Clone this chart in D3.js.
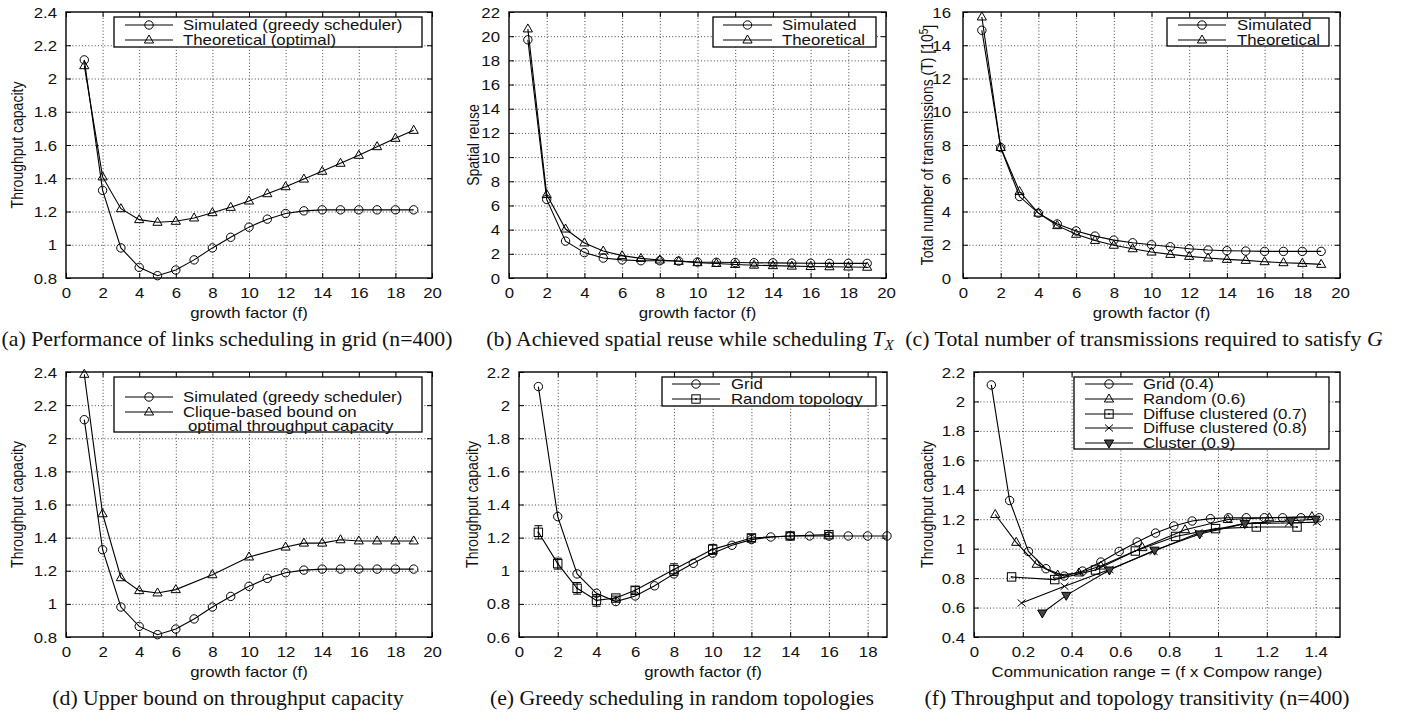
<!DOCTYPE html>
<html><head><meta charset="utf-8">
<script src="https://cdn.jsdelivr.net/npm/d3@7"></script>
<style>
body{margin:0;background:#fff}
svg{display:block}
text{fill:#111}
</style></head><body>
<svg id="c" width="1401" height="715"></svg>
<script>
// ---------------- data ----------------
const growthF = [1,2,3,4,5,6,7,8,9,10,11,12,13,14,15,16,17,18,19];
const simThroughput = [2.112,1.327,0.981,0.864,0.814,0.848,0.909,0.981,1.045,1.106,1.154,1.188,1.204,1.21,1.21,1.21,1.21,1.21,1.21];
const theoThroughput = [2.077,1.408,1.217,1.151,1.135,1.141,1.161,1.193,1.225,1.263,1.307,1.349,1.395,1.442,1.49,1.538,1.59,1.64,1.688];
const simReuse = [19.7,6.5,3.05,2.1,1.65,1.5,1.43,1.43,1.4,1.32,1.3,1.28,1.26,1.25,1.23,1.22,1.21,1.21,1.21];
const theoReuse = [20.6,6.9,4.05,2.9,2.23,1.85,1.62,1.49,1.38,1.27,1.2,1.12,1.06,1.02,0.98,0.95,0.93,0.91,0.89];
const simTx = [14.9,7.85,4.9,3.9,3.25,2.83,2.52,2.28,2.12,2.0,1.88,1.76,1.68,1.64,1.62,1.6,1.6,1.6,1.6];
const theoTx = [15.7,7.85,5.2,3.9,3.15,2.63,2.26,1.97,1.76,1.56,1.42,1.3,1.2,1.12,1.06,0.98,0.92,0.88,0.82];
const cliqueF = [1,2,3,4,5,6,8,10,12,13,14,15,16,17,18,19];
const cliqueBound = [2.386,1.544,1.158,1.08,1.066,1.086,1.176,1.283,1.343,1.367,1.367,1.387,1.38,1.38,1.38,1.38];
const randomF = [1,2,3,4,5,6,8,10,12,14,16];
const randomThroughput = [1.232,1.043,0.894,0.821,0.835,0.882,1.007,1.129,1.198,1.21,1.218];
const randomErr = [0.04,0.033,0.035,0.035,0.012,0.022,0.035,0.03,0.022,0.02,0.012];
// panel (f): communication range = f x Compow range
const gridRange = [0.071,0.146,0.223,0.295,0.37,0.445,0.52,0.595,0.669,0.744,0.819,0.894,0.969,1.043,1.116,1.19,1.265,1.34,1.415];
const randomRange = [0.087,0.173,0.257,0.343,0.43,0.52,0.69,0.865,1.04,1.21,1.385];
const diffuse7Range = [0.154,0.331,0.498,0.661,0.826,0.99,1.157,1.324];
const diffuse7Tput = [0.808,0.79,0.855,0.984,1.083,1.136,1.147,1.147];
const diffuse8Range = [0.195,0.371,0.555,0.736,0.92,1.106,1.29,1.405];
const diffuse8Tput = [0.631,0.744,0.858,0.982,1.107,1.17,1.174,1.18];
const clusterRange = [0.28,0.378,0.555,0.74,0.925,1.11,1.3,1.4];
const clusterTput = [0.563,0.683,0.855,0.99,1.1,1.17,1.19,1.2];
// ticks
const growthTicks20 = [0,2,4,6,8,10,12,14,16,18,20];
const growthTicks18 = [0,2,4,6,8,10,12,14,16,18];
const tputTicks08 = [0.8,1,1.2,1.4,1.6,1.8,2,2.2,2.4];
const tputTicks06 = [0.6,0.8,1,1.2,1.4,1.6,1.8,2,2.2];
const tputTicks04 = [0.4,0.6,0.8,1,1.2,1.4,1.6,1.8,2,2.2];
const reuseTicks = [0,2,4,6,8,10,12,14,16,18,20,22];
const txTicks = [0,2,4,6,8,10,12,14,16];
const rangeTicks = [0,0.2,0.4,0.6,0.8,1,1.2,1.4];
// ---------------- drawing ----------------
const svg = d3.select('#c');
const SANS = '"Liberation Sans", Arial, Helvetica, sans-serif';
const SERIF = '"Liberation Serif", "Times New Roman", serif';
const SX = 1.2;  // horizontal stretch of the plot text
const fmt = d => String(+d.toFixed(2));

function htext(g, x, y, s, anchor, size, sx, family){
  return g.append('text')
    .attr('transform', `translate(${x},${y}) scale(${sx||SX},1)`)
    .attr('text-anchor', anchor||'start')
    .style('font-family', family||SANS)
    .style('font-size', (size||14)+'px')
    .text(s);
}

function marker(g, type, cx, cy){
  const st = '#000';
  if(type==='circle') g.append('circle').attr('cx',cx).attr('cy',cy).attr('r',4.2).attr('fill','none').attr('stroke',st).attr('stroke-width',1);
  else if(type==='tri') g.append('path').attr('d',`M${cx},${cy-5}L${cx+4.6},${cy+3}L${cx-4.6},${cy+3}Z`).attr('fill','none').attr('stroke',st).attr('stroke-width',1);
  else if(type==='square'){
    g.append('rect').attr('x',cx-4.2).attr('y',cy-4.2).attr('width',8.4).attr('height',8.4).attr('fill','none').attr('stroke',st).attr('stroke-width',1);
    g.append('rect').attr('x',cx-0.8).attr('y',cy-0.8).attr('width',1.6).attr('height',1.6).attr('fill',st);
  }
  else if(type==='cross'){
    g.append('path').attr('d',`M${cx-4},${cy-3.5}L${cx+4},${cy+3.5}M${cx-4},${cy+3.5}L${cx+4},${cy-3.5}`).attr('stroke',st).attr('stroke-width',1);
  }
  else if(type==='tridown') g.append('path').attr('d',`M${cx},${cy+5}L${cx+4.6},${cy-3}L${cx-4.6},${cy-3}Z`).attr('fill','#444').attr('stroke',st).attr('stroke-width',1);
}

function panel(p){
  const g = svg.append('g');
  const x = d3.scaleLinear().domain(p.xDomain).range([p.L,p.R]);
  const y = d3.scaleLinear().domain(p.yDomain).range([p.B,p.T]);
  const H = p.B - p.T, W = p.R - p.L;
  // grid
  const inner = (arr, sc, lo, hi) => arr.filter(t => sc(t) > lo+1 && sc(t) < hi-1);
  const gx = g.append('g').attr('transform',`translate(0,${p.B})`)
    .call(d3.axisBottom(x).tickValues(inner(p.xTicks,x,p.L,p.R)).tickSize(-H).tickFormat(''));
  const gy = g.append('g').attr('transform',`translate(${p.L},0)`)
    .call(d3.axisLeft(y).tickValues(inner(p.yTicks,y,p.T,p.B)).tickSize(-W).tickFormat(''));
  [gx,gy].forEach(a=>{ a.select('.domain').remove();
    a.selectAll('line').attr('stroke','#333').attr('stroke-width',0.9).attr('stroke-dasharray','1,2.2'); });
  // inward ticks on all sides
  const tk = [
    [d3.axisBottom(x).tickValues(p.xTicks), `translate(0,${p.B})`],
    [d3.axisTop(x).tickValues(p.xTicks), `translate(0,${p.T})`],
    [d3.axisLeft(y).tickValues(p.yTicks), `translate(${p.L},0)`],
    [d3.axisRight(y).tickValues(p.yTicks), `translate(${p.R},0)`]];
  tk.forEach(([ax,tr])=>{
    const a = g.append('g').attr('transform',tr).call(ax.tickSize(-5).tickFormat(''));
    a.select('.domain').remove(); a.selectAll('line').attr('stroke','#000').attr('stroke-width',1);
  });
  // tick labels
  const lx = g.append('g').attr('transform',`translate(0,${p.B})`)
    .call(d3.axisBottom(x).tickValues(p.xTicks).tickSize(0).tickFormat(fmt));
  lx.select('.domain').remove();
  lx.selectAll('text').attr('y',20).attr('dy',null).attr('transform',`scale(${SX},1)`)
    .style('font-family',SANS).style('font-size','14px').attr('fill','#111');
  const ly = g.append('g').attr('transform',`translate(${p.L},0)`)
    .call(d3.axisLeft(y).tickValues(p.yTicks).tickSize(0).tickFormat(fmt));
  ly.select('.domain').remove();
  ly.selectAll('text').attr('x',-(p.yPad||9)/SX).attr('dy','0.36em').attr('transform',`scale(${SX},1)`)
    .style('font-family',SANS).style('font-size','14px').attr('fill','#111');
  // frame
  g.append('rect').attr('x',p.L).attr('y',p.T).attr('width',W).attr('height',H)
    .attr('fill','none').attr('stroke','#000').attr('stroke-width',1.4);
  // axis titles
  htext(g, (p.L+p.R)/2, p.B+40, p.xLabel, 'middle');
  const yl = g.append('text')
    .attr('transform',`translate(${p.yLabelX},${(p.T+p.B)/2}) rotate(-90) scale(1,${SX})`)
    .attr('text-anchor','middle').attr('dy','0.36em')
    .style('font-family',SANS).style('font-size','14px');
  if(typeof p.yLabel === 'string') yl.text(p.yLabel); else p.yLabel(yl);
  // series
  const line = d3.line().x(d=>x(d[0])).y(d=>y(d[1]));
  p.series.forEach(s=>{
    const pts = s.x.map((v,i)=>[v,s.y[i]]);
    g.append('path').datum(pts).attr('d',line).attr('fill','none').attr('stroke','#000').attr('stroke-width',1.1);
    if(s.err){
      pts.forEach((d,i)=>{
        const cx=x(d[0]), y0=y(d[1]-s.err[i]), y1=y(d[1]+s.err[i]);
        g.append('path').attr('d',`M${cx},${y0}L${cx},${y1}M${cx-4},${y0}L${cx+4},${y0}M${cx-4},${y1}L${cx+4},${y1}`)
          .attr('stroke','#000').attr('stroke-width',1).attr('fill','none');
      });
    }
    pts.forEach(d=>marker(g, s.marker, x(d[0]), y(d[1])));
  });
  // legend
  const lg = p.legend;
  g.append('rect').attr('x',lg.x0).attr('y',lg.y0).attr('width',lg.x1-lg.x0).attr('height',lg.y1-lg.y0)
    .attr('fill','#fff').attr('stroke','#000').attr('stroke-width',1.3);
  lg.rows.forEach((r,i)=>{
    const ry = lg.rowY[i];
    if(r.marker){
      g.append('line').attr('x1',lg.lx0).attr('x2',lg.lx1).attr('y1',ry).attr('y2',ry).attr('stroke','#000').attr('stroke-width',1.1);
      marker(g, r.marker, (lg.lx0+lg.lx1)/2, ry);
    }
    htext(g, lg.tx + (r.indent||0), ry+5, r.text, 'start');
  });
}

panel({L:66,R:432,T:12,B:278, xDomain:[0,20], yDomain:[0.8,2.4], xTicks:growthTicks20, yTicks:tputTicks08,
  xLabel:'growth factor (f)', yLabel:'Throughput capacity', yLabelX:17,
  series:[{x:growthF,y:simThroughput,marker:'circle'},{x:growthF,y:theoThroughput,marker:'tri'}],
  legend:{x0:114,y0:17,x1:422,y1:47,lx0:125,lx1:173,tx:183,rowY:[25,40],
    rows:[{text:'Simulated (greedy scheduler)',marker:'circle'},{text:'Theoretical (optimal)',marker:'tri'}]}});

panel({L:509,R:886,T:12,B:278, xDomain:[0,20], yDomain:[0,22], xTicks:growthTicks20, yTicks:reuseTicks,
  xLabel:'growth factor (f)', yLabel:'Spatial reuse', yLabelX:473,
  series:[{x:growthF,y:simReuse,marker:'circle'},{x:growthF,y:theoReuse,marker:'tri'}],
  legend:{x0:713,y0:17,x1:876,y1:47,lx0:723,lx1:772,tx:782,rowY:[25,40],
    rows:[{text:'Simulated',marker:'circle'},{text:'Theoretical',marker:'tri'}]}});

panel({L:963,R:1340,T:12,B:278, xDomain:[0,20], yDomain:[0,16], xTicks:growthTicks20, yTicks:txTicks, yPad:12,
  xLabel:'growth factor (f)', yLabelX:927,
  yLabel: t => { t.append('tspan').text('Total number of transmissions (T) [10');
    t.append('tspan').attr('dy','-0.45em').style('font-size','10px').text('5');
    t.append('tspan').attr('dy','0.45em').text(']'); },
  series:[{x:growthF,y:simTx,marker:'circle'},{x:growthF,y:theoTx,marker:'tri'}],
  legend:{x0:1167,y0:18,x1:1329,y1:46,lx0:1178,lx1:1226,tx:1237,rowY:[25,40],
    rows:[{text:'Simulated',marker:'circle'},{text:'Theoretical',marker:'tri'}]}});

panel({L:66,R:432,T:372,B:637, xDomain:[0,20], yDomain:[0.8,2.4], xTicks:growthTicks20, yTicks:tputTicks08,
  xLabel:'growth factor (f)', yLabel:'Throughput capacity', yLabelX:17,
  series:[{x:growthF,y:simThroughput,marker:'circle'},{x:cliqueF,y:cliqueBound,marker:'tri'}],
  legend:{x0:114,y0:377,x1:422,y1:432,lx0:125,lx1:173,tx:183,rowY:[397,412,426],
    rows:[{text:'Simulated (greedy scheduler)',marker:'circle'},{text:'Clique-based bound on',marker:'tri'},{text:'optimal throughput capacity',indent:5}]}});

panel({L:519,R:887,T:372,B:637, xDomain:[0,19], yDomain:[0.6,2.2], xTicks:growthTicks18, yTicks:tputTicks06,
  xLabel:'growth factor (f)', yLabel:'Throughput capacity', yLabelX:472,
  series:[{x:growthF,y:simThroughput,marker:'circle'},{x:randomF,y:randomThroughput,err:randomErr,marker:'square'}],
  legend:{x0:662,y0:377,x1:876,y1:406,lx0:672,lx1:720,tx:731,rowY:[384,399],
    rows:[{text:'Grid',marker:'circle'},{text:'Random topology',marker:'square'}]}});

panel({L:974,R:1340,T:372,B:637, xDomain:[0,1.5], yDomain:[0.4,2.2], xTicks:rangeTicks, yTicks:tputTicks04,
  xLabel:'Communication range = (f x Compow range)', yLabel:'Throughput capacity', yLabelX:927,
  series:[{x:gridRange,y:simThroughput,marker:'circle'},{x:randomRange,y:randomThroughput,marker:'tri'},
    {x:diffuse7Range,y:diffuse7Tput,marker:'square'},{x:diffuse8Range,y:diffuse8Tput,marker:'cross'},
    {x:clusterRange,y:clusterTput,marker:'tridown'}],
  legend:{x0:1074,y0:377,x1:1329,y1:449,lx0:1085,lx1:1133,tx:1143,rowY:[384,399,414,428,443],
    rows:[{text:'Grid (0.4)',marker:'circle'},{text:'Random (0.6)',marker:'tri'},{text:'Diffuse clustered (0.7)',marker:'square'},
      {text:'Diffuse clustered (0.8)',marker:'cross'},{text:'Cluster (0.9)',marker:'tridown'}]}});

// captions
const CS = 1.09;
function caption(x, y, build){
  const t = svg.append('text').attr('transform',`translate(${x},${y}) scale(${CS},1)`)
    .attr('text-anchor','middle').style('font-family',SERIF).style('font-size','20px');
  build(t);
}
caption(227,346,t=>t.text('(a) Performance of links scheduling in grid (n=400)'));
caption(690,346,t=>{ t.append('tspan').text('(b) Achieved spatial reuse while scheduling ');
  t.append('tspan').style('font-style','italic').text('T');
  t.append('tspan').style('font-style','italic').style('font-size','14px').attr('dy','4').text('X'); });
caption(1144,346,t=>{ t.append('tspan').text('(c) Total number of transmissions required to satisfy ');
  t.append('tspan').style('font-style','italic').text('G'); });
caption(228,705,t=>t.text('(d) Upper bound on throughput capacity'));
caption(682,705,t=>t.text('(e) Greedy scheduling in random topologies'));
caption(1137,705,t=>t.text('(f) Throughput and topology transitivity (n=400)'));
</script>
</body></html>
